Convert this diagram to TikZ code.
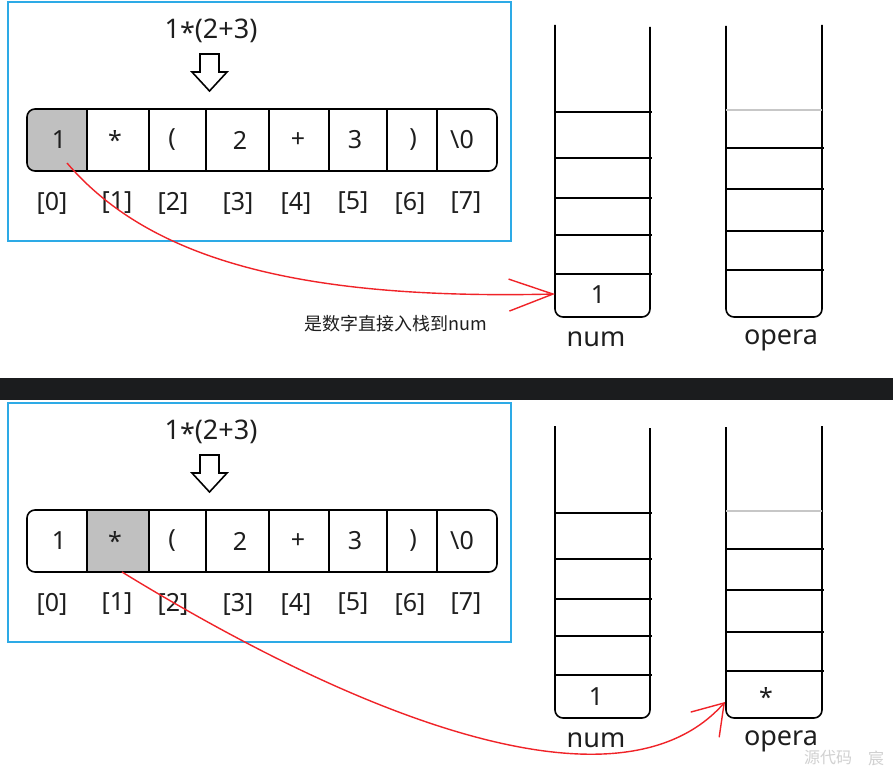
\documentclass[tikz,border=0pt]{standalone}
\usepackage{fontspec}
\setmainfont{Noto Sans}
\newfontfamily\cjk{Noto Sans CJK SC}
\usetikzlibrary{arrows.meta}
\definecolor{boxblue}{RGB}{45,170,230}
\definecolor{cellgray}{RGB}{192,192,192}
\definecolor{arrowred}{RGB}{240,35,40}
\definecolor{barcol}{RGB}{27,28,30}
\definecolor{txtcol}{RGB}{30,30,30}
\tikzset{
  frame/.style={draw=boxblue, line width=2pt},
  outline/.style={draw=black, line width=1.6pt},
  lightline/.style={draw=black!22, line width=1.6pt},
  titletxt/.style={inner sep=0pt, text=txtcol, font=\fontsize{27}{30}\selectfont},
  celltxt/.style={inner sep=0pt, text=txtcol, font=\fontsize{25}{28}\selectfont},
  idxtxt/.style={inner sep=0pt, text=txtcol, font=\fontsize{25}{28}\selectfont},
  stacklbl/.style={inner sep=0pt, text=txtcol, font=\fontsize{27}{30}\selectfont},
  stacktxt/.style={inner sep=0pt, text=txtcol, font=\fontsize{25}{28}\selectfont},
  notetxt/.style={inner sep=0pt, text=txtcol, font=\cjk\fontsize{18}{21}\selectfont},
  wmtxt/.style={inner sep=0pt, text=black!18, font=\cjk\fontsize{16}{19}\selectfont},
  redarrow/.style={draw=arrowred, line width=1.4pt},
}
\newcommand\drawpanel[2]{%
  \draw[frame] (8,2) rectangle (511,241);
  \node[titletxt] (#1title) at (211,31) {1\raisebox{-0.3ex}{*}(2+3)};
  \draw[line width=1.6pt, fill=white, line join=miter]
    (200,54) -- (219,54) -- (219,72) -- (227,72) -- (209.5,91) -- (192,72) -- (200,72) -- cycle;
  \begin{scope}
    \clip[rounded corners=8] (27,109) rectangle (497,171);
    \foreach \l/\r [count=\i from 0] in {27/87,87/149,149/206,206/269,269/329,329/387,387/437,437/497}{
      \ifnum\i=#2\relax \fill[cellgray] (\l,109) rectangle (\r,171);\fi
    }
  \end{scope}
  \draw[outline, rounded corners=8] (27,109) rectangle (497,171);
  \foreach \x in {87,149,206,269,329,387,437}
    \draw[outline] (\x,109) -- (\x,171);
  \foreach \x/\t [count=\i from 0] in {59/1,115/*,172/(,240/2,298/+,355/3,413/),462/\textbackslash 0}
    \node[celltxt] (#1c\i) at (\x,140) {\t};
  \foreach \x/\k in {52/0,117/1,173/2,238/3,296/4,353/5,410/6,466/7}
    \node[idxtxt] (#1i\k) at (\x,203) {[\k]};
  % num stack
  \draw[outline, rounded corners=8] (555,25) -- (555,317) -- (650,317) -- (650,27);
  \foreach \y in {112,158,198,235,274}
    \draw[outline] (555,\y) -- (652,\y);
  % opera stack
  \draw[outline, rounded corners=8] (726,26) -- (726,317) -- (822,317) -- (822,25);
  \draw[lightline] (726,110) -- (822,110);
  \foreach \y in {148,189,231,270}
    \draw[outline] (726,\y) -- (824,\y);
  \node[stacklbl] (#1num) at (596,339) {num};
  \node[stacklbl] (#1opera) at (781,340) {opera};
}
\begin{document}
\begin{tikzpicture}[x=1pt,y=-1pt]
\useasboundingbox (0,0) rectangle (893,776);
\fill[white] (0,0) rectangle (893,776);
\fill[barcol] (0,378) rectangle (893,400);

% top panel
\drawpanel{a}{0}
\node[stacktxt] (anum1) at (598,295) {1};
\node[notetxt] (anote) at (396,324) {是数字直接入栈到num};
\coordinate (as) at (67,163);
\coordinate (ae) at (555,294);
\draw[redarrow, -{Straight Barb[length=44pt,width=32pt]}]
  (as) .. controls (150,260) and (300,300) .. (ae);

% bottom panel
\begin{scope}[shift={(0,401)}]
\drawpanel{b}{1}
\node[stacktxt] (bnum1) at (596,296) {1};
\node[stacktxt] (bop1) at (766,296) {*};
\end{scope}
\coordinate (bs) at (122,572);
\coordinate (be) at (725,702);
\draw[redarrow, -{Straight Barb[length=29pt,width=38pt]}]
  (bs) .. controls (380,730) and (625,815) .. (be);

\node[wmtxt] (wm1) at (828,758) {源代码};
\node[wmtxt] (wm2) at (876,758) {宸};
\end{tikzpicture}
\end{document}
